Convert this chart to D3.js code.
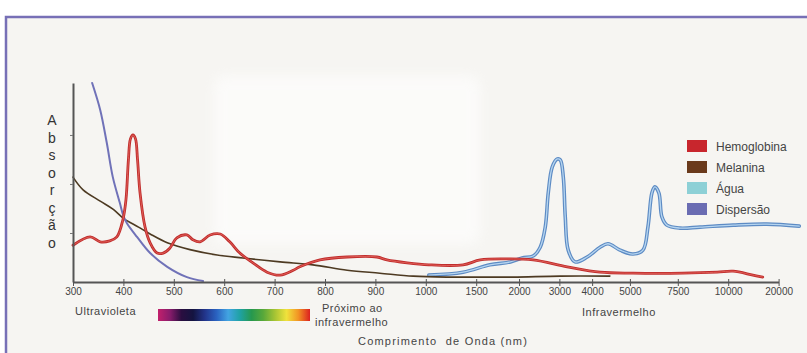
<!DOCTYPE html>
<html lang="pt">
<head>
<meta charset="utf-8">
<script src="https://cdn.jsdelivr.net/npm/d3@7"></script>
<style>
  html, body { margin: 0; padding: 0; background: #fff; }
  svg { display: block; }
  text { font-family: "Liberation Sans", Arial, sans-serif; }
</style>
</head>
<body>
<div id="chart"></div>
<script>
'use strict';

// 横軸の目盛り (nm)
const tickValues = [300, 400, 500, 600, 700, 800, 900, 1000, 1500, 2000, 3000, 4000, 5000, 7500, 10000, 20000];
// 目盛りの間隔は一定ではないので、区間ごとの位置 (目盛り1つ分を1とする)
const tickSlots = [0, 1, 2, 3, 4, 5, 6, 7, 8, 8.85, 9.65, 10.3, 11.05, 12, 13, 14];

const hemoglobinaNm = [300, 334, 354, 373, 387, 399, 405, 410, 414, 419, 424, 428, 433, 443, 453, 467, 479, 492, 506, 526, 538, 552, 572, 592, 611, 631, 657, 685, 711, 737, 750, 790, 844, 903, 923, 963, 1030, 1370, 1547, 1860, 2350, 3240, 4210, 5160, 7750, 9450, 10980, 14900, 16860];
const hemoglobinaAbs = [0.75, 0.92, 0.82, 0.84, 0.92, 1.27, 1.67, 2.5, 2.92, 3.0, 2.92, 2.5, 1.82, 1.12, 0.80, 0.59, 0.59, 0.69, 0.90, 0.96, 0.86, 0.82, 0.96, 0.98, 0.82, 0.59, 0.39, 0.20, 0.14, 0.24, 0.31, 0.45, 0.51, 0.51, 0.45, 0.39, 0.35, 0.35, 0.45, 0.47, 0.45, 0.31, 0.20, 0.18, 0.18, 0.20, 0.22, 0.14, 0.10];

const melaninaNm = [300, 320, 354, 380, 400, 430, 453, 487, 532, 586, 637, 711, 776, 844, 909, 975, 1204, 1541, 1930, 3030, 4470];
const melaninaAbs = [2.14, 1.88, 1.65, 1.48, 1.30, 1.12, 0.98, 0.80, 0.66, 0.55, 0.49, 0.41, 0.35, 0.24, 0.18, 0.12, 0.10, 0.10, 0.10, 0.12, 0.12];

const aguaNm = [1030, 1370, 1660, 1900, 2075, 2350, 2525, 2650, 2725, 2825, 2950, 3030, 3120, 3180, 3270, 3480, 3850, 4210, 4420, 4740, 5160, 5680, 5940, 6150, 6300, 6510, 6670, 6930, 7600, 8600, 10980, 17650, 24100];
const aguaAbs = [0.14, 0.20, 0.35, 0.41, 0.49, 0.53, 0.71, 1.12, 1.82, 2.35, 2.51, 2.49, 2.14, 1.33, 0.65, 0.41, 0.51, 0.71, 0.78, 0.65, 0.57, 0.65, 1.12, 1.82, 1.94, 1.82, 1.33, 1.16, 1.10, 1.12, 1.16, 1.18, 1.14];

const dispersaoNm = [338, 354, 367, 379, 393, 400, 407, 427, 453, 487, 526, 558];
const dispersaoAbs = [4.06, 3.51, 2.84, 2.14, 1.61, 1.35, 1.20, 0.92, 0.59, 0.31, 0.10, 0.02];

const legendNames = ['Hemoglobina', 'Melanina', 'Água', 'Dispersão'];
const legendColors = ['#c8262d', '#6a3a1c', '#8dd0d6', '#6a6cb2'];
const yLabelLetters = ['A', 'b', 's', 'o', 'r', 'ç', 'ã', 'o'];
const spectrumColors = ['#c2206c', '#8a1c6c', '#2a0e40', '#141440', '#22348a', '#2a62c0', '#42a4e2', '#1fa2a4', '#26984e', '#58a83a', '#a6c434', '#f0e23c', '#f29424', '#dc2020'];

const width = 807;
const height = 353;
const x0 = 73;
const step = 50.4;
const baseY = 282;

const svg = d3.select('#chart')
    .append('svg')
    .attr('width', width)
    .attr('height', height)
    .attr('viewBox', `0 0 ${width} ${height}`);

const defs = svg.append('defs');
defs.append('filter')
    .attr('id', 'soft')
    .attr('filterUnits', 'userSpaceOnUse')
    .attr('x', 180).attr('y', 40)
    .attr('width', 340).attr('height', 240)
    .append('feGaussianBlur')
    .attr('stdDeviation', 6);
const grad = defs.append('linearGradient')
    .attr('id', 'spectrum');
grad.selectAll('stop')
    .data(spectrumColors)
    .enter()
    .append('stop')
    .attr('offset', (d, i) => i / (spectrumColors.length - 1))
    .attr('stop-color', d => d);

// 枠
svg.append('rect')
    .attr('x', 6)
    .attr('y', 17)
    .attr('width', width)
    .attr('height', height)
    .attr('fill', '#f6f5f2')
    .attr('stroke', '#7770b6')
    .attr('stroke-width', 2.5);

// 消された跡の白い部分
svg.append('rect')
    .attr('x', 214)
    .attr('y', 76)
    .attr('width', 266)
    .attr('height', 168)
    .attr('rx', 10)
    .attr('fill', '#ffffff')
    .attr('opacity', 0.6)
    .attr('filter', 'url(#soft)');

// スケール
const x = d3.scaleLinear()
    .domain(tickValues)
    .range(tickSlots.map(s => x0 + s * step));
const y = d3.scaleLinear()
    .domain([0, 4.06])
    .range([baseY, 83]);

// 曲線
const line = d3.line()
    .x(d => x(d[0]))
    .y(d => y(d[1]))
    .curve(d3.curveCatmullRom.alpha(0.5));

const plot = svg.append('g');
const drawSeries = (nm, abs, strokes) => {
    const points = d3.zip(nm, abs);
    strokes.forEach(s => {
        plot.append('path')
            .datum(points)
            .attr('d', line)
            .attr('fill', 'none')
            .attr('stroke', s.color)
            .attr('stroke-width', s.width)
            .attr('stroke-linejoin', 'round')
            .attr('stroke-linecap', 'round');
    });
};
drawSeries(aguaNm, aguaAbs, [{ color: '#5d8bc4', width: 3.6 }, { color: '#b6d5f0', width: 1.3 }]);
drawSeries(melaninaNm, melaninaAbs, [{ color: '#4d3a22', width: 1.6 }]);
drawSeries(dispersaoNm, dispersaoAbs, [{ color: '#7072b8', width: 2 }]);
drawSeries(hemoglobinaNm, hemoglobinaAbs, [{ color: '#bf2c2c', width: 2.8 }, { color: '#e2625a', width: 0.9 }]);

// 軸
const xAxis = svg.append('g')
    .attr('transform', `translate(0, ${baseY})`)
    .call(d3.axisBottom(x)
        .tickValues(tickValues)
        .tickFormat(d3.format('d'))
        .tickSizeInner(4)
        .tickSizeOuter(0)
        .tickPadding(2));
xAxis.select('.domain').attr('stroke', '#555').attr('stroke-width', 2);
xAxis.selectAll('.tick line').attr('stroke', '#555').attr('y1', -3);
xAxis.selectAll('.tick text')
    .attr('fill', '#444')
    .attr('font-family', '"Liberation Sans Narrow", "Liberation Sans", sans-serif')
    .attr('font-size', 10);

const yAxis = svg.append('g')
    .attr('transform', `translate(${x0}, 0)`)
    .call(d3.axisLeft(y)
        .tickValues([1, 2, 3])
        .tickFormat('')
        .tickSizeInner(3)
        .tickSizeOuter(0));
yAxis.select('.domain').attr('stroke', '#555').attr('stroke-width', 2);
yAxis.selectAll('.tick line').attr('stroke', '#777');

// 縦軸ラベル (一文字ずつ縦に)
svg.append('g')
    .selectAll('text')
    .data(yLabelLetters)
    .enter()
    .append('text')
    .attr('x', 52)
    .attr('y', (d, i) => 125 + i * 17.5)
    .attr('text-anchor', 'middle')
    .attr('font-size', 14)
    .attr('fill', '#333')
    .text(d => d);

// 凡例
const legend = svg.append('g')
    .attr('transform', 'translate(687, 140)');
const legendItem = legend.selectAll('g')
    .data(legendNames)
    .enter()
    .append('g')
    .attr('transform', (d, i) => `translate(0, ${i * 21})`);
legendItem.append('rect')
    .attr('width', 20)
    .attr('height', 12)
    .attr('fill', (d, i) => legendColors[i]);
legendItem.append('text')
    .attr('x', 29)
    .attr('y', 10.5)
    .attr('font-size', 12)
    .attr('fill', '#444')
    .text(d => d);

// 下部のラベル
const bottomText = (tx, ty, str, spacing = 0.5) => svg.append('text')
    .attr('x', tx)
    .attr('y', ty)
    .attr('font-size', 11)
    .attr('letter-spacing', spacing)
    .attr('fill', '#444')
    .style('white-space', 'pre')
    .text(str);
bottomText(75, 315, 'Ultravioleta');
bottomText(322, 312, 'Próximo ao');
bottomText(315, 326, 'infravermelho');
bottomText(582, 316, 'Infravermelho');
bottomText(358, 345, 'Comprimento  de Onda (nm)', 1.2);

// 可視光のスペクトル
svg.append('rect')
    .attr('x', 158)
    .attr('y', 309)
    .attr('width', 152)
    .attr('height', 12)
    .attr('fill', 'url(#spectrum)');
</script>
</body>
</html>
